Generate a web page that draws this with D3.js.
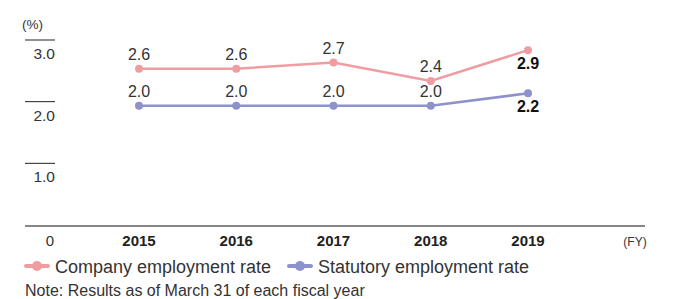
<!DOCTYPE html>
<html>
<head>
<meta charset="utf-8">
<script src="https://cdn.jsdelivr.net/npm/d3@7"></script>
<style>
  body { margin: 0; background: #fff; }
  svg { display: block; font-family: "Liberation Sans", Arial, sans-serif; }
</style>
</head>
<body>
<svg id="chart" width="679" height="299"></svg>
<script>
const years = ["2015", "2016", "2017", "2018", "2019"];
const companyRate = [2.6, 2.6, 2.7, 2.4, 2.9];
const statutoryRate = [2.0, 2.0, 2.0, 2.0, 2.2];
const yTicks = [1.0, 2.0, 3.0];

const pink = "#f09da2";
const blue = "#8e92cc";
const textColor = "#333";

const svg = d3.select("#chart");

const x = d3.scalePoint().domain(years).range([139, 528]);
const y = d3.scaleLinear().domain([0, 3]).range([229, 44]);

// y tick marks sit a little above their value, labels just under them
svg.append("g")
  .selectAll("line")
  .data(yTicks)
  .join("line")
  .attr("x1", 25).attr("x2", 55)
  .attr("y1", d => y(d) - 4).attr("y2", d => y(d) - 4)
  .attr("stroke", "#222").attr("stroke-width", 1);

svg.append("g")
  .selectAll("text")
  .data(yTicks)
  .join("text")
  .attr("x", 55)
  .attr("y", d => y(d) + 15)
  .attr("text-anchor", "end")
  .attr("font-size", 15.5)
  .attr("fill", textColor)
  .text(d => d.toFixed(1));

svg.append("text")
  .attr("x", 22).attr("y", 29)
  .attr("font-size", 13.5).attr("fill", textColor)
  .text("(%)");

// baseline
svg.append("line")
  .attr("x1", 25).attr("x2", 645)
  .attr("y1", y(0) - 3).attr("y2", y(0) - 3)
  .attr("stroke", "#111").attr("stroke-width", 1.2);

svg.append("text")
  .attr("x", 50).attr("y", y(0) + 17)
  .attr("text-anchor", "middle")
  .attr("font-size", 15).attr("fill", textColor)
  .text("0");

svg.append("g")
  .selectAll("text")
  .data(years)
  .join("text")
  .attr("x", d => x(d))
  .attr("y", y(0) + 17)
  .attr("text-anchor", "middle")
  .attr("font-size", 15)
  .attr("font-weight", "bold")
  .attr("fill", "#222")
  .text(d => d);

svg.append("text")
  .attr("x", 635).attr("y", y(0) + 17)
  .attr("text-anchor", "middle")
  .attr("font-size", 12).attr("fill", textColor)
  .text("(FY)");

const line = d3.line()
  .x((d, i) => x(years[i]))
  .y(d => y(d));

function drawSeries(values, color) {
  const g = svg.append("g");
  g.append("path")
    .datum(values)
    .attr("d", line)
    .attr("fill", "none")
    .attr("stroke", color)
    .attr("stroke-width", 2.5);
  g.selectAll("circle")
    .data(values)
    .join("circle")
    .attr("cx", (d, i) => x(years[i]))
    .attr("cy", d => y(d))
    .attr("r", 4)
    .attr("fill", color);
  g.selectAll("text")
    .data(values)
    .join("text")
    .attr("x", (d, i) => x(years[i]))
    .attr("y", (d, i) => i === values.length - 1 ? y(d) + 19 : y(d) - 9)
    .attr("text-anchor", "middle")
    .attr("font-size", 16)
    .attr("font-weight", (d, i) => i === values.length - 1 ? "bold" : "normal")
    .attr("fill", (d, i) => i === values.length - 1 ? "#111" : textColor)
    .text(d => d.toFixed(1));
}

drawSeries(companyRate, pink);
drawSeries(statutoryRate, blue);

// legend
const legend = [
  { label: "Company employment rate", color: pink, x: 25 },
  { label: "Statutory employment rate", color: blue, x: 288 }
];
const lg = svg.append("g")
  .selectAll("g")
  .data(legend)
  .join("g")
  .attr("transform", d => `translate(${d.x},266)`);
lg.append("line")
  .attr("x1", 1).attr("x2", 23)
  .attr("stroke", d => d.color)
  .attr("stroke-width", 4)
  .attr("stroke-linecap", "round");
lg.append("circle")
  .attr("cx", 12).attr("r", 5)
  .attr("fill", d => d.color);
lg.append("text")
  .attr("x", 30).attr("y", 6.5)
  .attr("font-size", 18)
  .attr("fill", textColor)
  .text(d => d.label);

svg.append("text")
  .attr("x", 25).attr("y", 296)
  .attr("font-size", 16)
  .attr("fill", textColor)
  .text("Note: Results as of March 31 of each fiscal year");
</script>
</body>
</html>
